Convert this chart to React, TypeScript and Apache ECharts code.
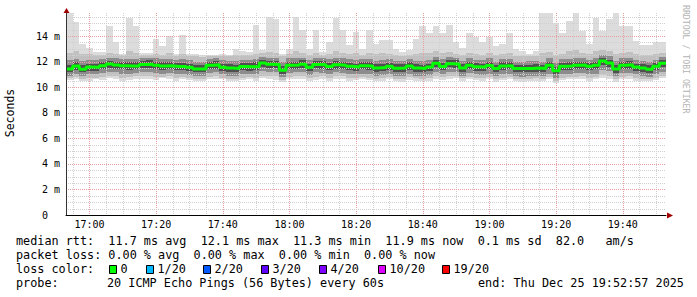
import React, { useEffect, useRef } from "react";
import * as echarts from "echarts";

// time axis in minutes since midnight; window 16:52:57 .. 19:52:57, 2-minute samples
const START = 16 * 60 + 52 + 57 / 60;
const STEP = 2;
const SPAN = 180;
const END = START + SPAN;
const YMAX = 15.8;

const median = [
  11.42, 11.66, 11.40, 11.58, 11.55, 11.68, 11.82, 11.74, 11.68, 11.66,
  11.66, 11.78, 11.80, 11.72, 11.65, 11.67, 11.62, 11.62, 11.56, 11.42,
  11.42, 11.71, 11.76, 11.56, 11.50, 11.45, 11.62, 11.60, 11.62, 11.88,
  11.79, 11.78, 11.32, 11.71, 11.74, 11.80, 11.55, 11.78, 11.75, 11.62,
  11.76, 11.71, 11.63, 11.58, 11.67, 11.65, 11.50, 11.53, 11.63, 11.48,
  11.50, 11.65, 11.50, 11.45, 11.58, 11.86, 11.62, 11.84, 11.82, 11.50,
  11.72, 11.60, 11.58, 11.70, 11.45, 11.65, 11.68, 11.45, 11.45, 11.45,
  11.50, 11.45, 11.71, 11.28, 11.63, 11.66, 11.72, 11.74, 11.63, 11.71,
  12.05, 11.88, 11.42, 11.71, 11.76, 11.58, 11.50, 11.40, 11.63, 11.86,
];

const maxPing = [
  16, 15.1, 13.4, 13.1, 12.75, 12.75, 14.8, 13.5, 12.6, 15.4,
  14.8, 12.7, 12.7, 13.8, 13.2, 14.0, 12.6, 14.1, 12.6, 12.6,
  12.5, 12.5, 12.5, 12.6, 12.55, 13.0, 12.8, 12.75, 14.9, 12.9,
  15.5, 15.3, 12.6, 13.0, 15.5, 14.5, 13.0, 14.5, 12.75, 13.5,
  15.4, 14.5, 13.3, 14.3, 13.0, 14.5, 13.4, 13.7, 13.7, 13.0,
  12.75, 12.9, 13.8, 14.8, 14.2, 14.8, 14.2, 14.9, 13.5, 13.1,
  14.2, 13.9, 13.5, 13.9, 13.2, 13.4, 14.2, 13.0, 12.8, 12.6,
  12.8, 16, 16, 15.0, 14.2, 15.2, 16, 14.4, 13.4, 15.4,
  14.4, 15.3, 16, 14.8, 14.8, 13.6, 13.3, 13.3, 13.5, 13.5,
];

const midHi = [
  12.7, 12.8, 12.6, 12.6, 12.5, 12.55, 12.7, 12.6, 12.5, 12.8,
  12.7, 12.5, 12.55, 12.6, 12.55, 12.65, 12.45, 12.6, 12.45, 12.4,
  12.35, 12.4, 12.4, 12.45, 12.4, 12.5, 12.55, 12.5, 12.6, 12.7,
  12.75, 12.7, 12.4, 12.6, 12.8, 12.7, 12.55, 12.7, 12.5, 12.6,
  12.8, 12.7, 12.6, 12.65, 12.55, 12.7, 12.6, 12.65, 12.6, 12.5,
  12.45, 12.55, 12.6, 12.7, 12.65, 12.8, 12.7, 12.75, 12.6, 12.55,
  12.7, 12.6, 12.55, 12.65, 12.5, 12.6, 12.7, 12.45, 12.4, 12.4,
  12.45, 12.7, 12.75, 12.5, 12.6, 12.8, 12.9, 12.7, 12.6, 12.8,
  12.9, 12.85, 12.6, 12.7, 12.75, 12.6, 12.55, 12.5, 12.6, 12.7,
];

const innerHi = [
  12.1, 12.2, 12.05, 12.15, 12.1, 12.2, 12.3, 12.25, 12.2, 12.2,
  12.2, 12.3, 12.3, 12.25, 12.2, 12.2, 12.15, 12.2, 12.1, 12.0,
  12.0, 12.2, 12.25, 12.1, 12.05, 12.05, 12.15, 12.15, 12.2, 12.35,
  12.3, 12.3, 11.95, 12.25, 12.25, 12.3, 12.1, 12.3, 12.3, 12.2,
  12.3, 12.25, 12.2, 12.15, 12.2, 12.2, 12.05, 12.1, 12.2, 12.05,
  12.05, 12.2, 12.05, 12.05, 12.15, 12.35, 12.2, 12.35, 12.3, 12.05,
  12.25, 12.15, 12.1, 12.25, 12.0, 12.2, 12.2, 12.0, 12.0, 12.05,
  12.05, 12.0, 12.25, 11.9, 12.2, 12.2, 12.25, 12.25, 12.15, 12.25,
  12.5, 12.4, 12.05, 12.25, 12.3, 12.15, 12.05, 12.0, 12.15, 12.35,
];

const coreHi = [
  11.75, 11.95, 11.75, 11.85, 11.85, 11.95, 12.05, 12.0, 11.95, 11.95,
  11.95, 12.05, 12.1, 12.0, 11.95, 11.95, 11.9, 11.9, 11.85, 11.75,
  11.75, 12.0, 12.05, 11.85, 11.8, 11.75, 11.9, 11.9, 11.95, 12.15,
  12.05, 12.05, 11.65, 12.0, 12.0, 12.1, 11.85, 12.05, 12.05, 11.9,
  12.05, 12.0, 11.9, 11.85, 11.95, 11.95, 11.8, 11.8, 11.9, 11.8,
  11.8, 11.95, 11.8, 11.75, 11.85, 12.1, 11.9, 12.1, 12.1, 11.8,
  12.0, 11.9, 11.85, 12.0, 11.75, 11.95, 11.95, 11.75, 11.75, 11.75,
  11.8, 11.75, 12.0, 11.6, 11.9, 11.95, 12.0, 12.0, 11.9, 12.0,
  12.3, 12.15, 11.75, 12.0, 12.05, 11.85, 11.8, 11.7, 11.9, 12.1,
];

const coreLo = [
  11.15, 11.35, 11.15, 11.3, 11.25, 11.4, 11.5, 11.45, 11.4, 11.35,
  11.4, 11.5, 11.5, 11.45, 11.35, 11.4, 11.35, 11.35, 11.25, 11.15,
  11.15, 11.45, 11.45, 11.3, 11.2, 11.15, 11.35, 11.3, 11.35, 11.55,
  11.5, 11.5, 11.05, 11.4, 11.45, 11.5, 11.25, 11.5, 11.45, 11.35,
  11.45, 11.4, 11.35, 11.3, 11.4, 11.35, 11.2, 11.25, 11.35, 11.2,
  11.2, 11.35, 11.2, 11.15, 11.3, 11.55, 11.35, 11.55, 11.5, 11.2,
  11.45, 11.3, 11.3, 11.4, 11.15, 11.35, 11.4, 11.15, 11.15, 11.15,
  11.2, 11.15, 11.4, 11.0, 11.35, 11.35, 11.4, 11.45, 11.35, 11.4,
  11.7, 11.55, 11.1, 11.4, 11.45, 11.3, 11.2, 11.1, 11.35, 11.55,
];

const innerLo = [
  10.9, 11.05, 10.85, 11.0, 11.0, 11.1, 11.2, 11.15, 11.05, 11.05,
  11.1, 11.2, 11.2, 11.1, 11.05, 11.1, 11.05, 11.0, 10.95, 10.85,
  10.85, 11.1, 11.15, 11.0, 10.9, 10.85, 11.0, 11.0, 11.05, 11.25,
  11.2, 11.15, 10.8, 11.1, 11.15, 11.2, 10.95, 11.15, 11.1, 11.0,
  11.15, 11.1, 11.0, 11.0, 11.05, 11.05, 10.9, 10.95, 11.0, 10.9,
  10.85, 11.05, 10.9, 10.85, 10.95, 11.2, 11.0, 11.2, 11.2, 10.9,
  11.1, 11.0, 10.95, 11.05, 10.85, 11.0, 11.05, 10.85, 10.8, 10.85,
  10.9, 10.85, 11.05, 10.75, 11.0, 11.05, 11.1, 11.1, 11.0, 11.05,
  11.35, 11.25, 10.85, 11.1, 11.1, 11.0, 10.9, 10.8, 11.0, 11.2,
];

const midLo = [
  10.7, 10.8, 10.65, 10.7, 10.75, 10.8, 10.9, 10.85, 10.75, 10.8,
  10.85, 10.9, 10.9, 10.8, 10.8, 10.85, 10.75, 10.8, 10.7, 10.6,
  10.65, 10.8, 10.85, 10.75, 10.65, 10.65, 10.75, 10.8, 10.7, 10.9,
  10.9, 10.85, 10.55, 10.8, 10.85, 10.85, 10.7, 10.8, 10.85, 10.75,
  10.9, 10.85, 10.75, 10.75, 10.8, 10.75, 10.65, 10.7, 10.8, 10.65,
  10.6, 10.8, 10.7, 10.6, 10.7, 10.9, 10.8, 10.85, 10.9, 10.7,
  10.8, 10.75, 10.7, 10.8, 10.6, 10.75, 10.8, 10.65, 10.6, 10.65,
  10.7, 10.65, 10.8, 10.5, 10.75, 10.8, 10.8, 10.85, 10.7, 10.8,
  10.95, 10.9, 10.6, 10.8, 10.85, 10.7, 10.65, 10.6, 10.75, 10.9,
];

const minPing = [
  10.55, 10.6, 10.5, 10.45, 10.6, 10.55, 10.7, 10.6, 10.5, 10.55,
  10.6, 10.65, 10.6, 10.55, 10.7, 10.6, 10.5, 10.6, 10.55, 10.45,
  10.5, 10.6, 10.65, 10.6, 10.45, 10.5, 10.55, 10.6, 10.5, 10.7,
  10.6, 10.55, 10.4, 10.6, 10.65, 10.6, 10.45, 10.55, 10.6, 10.5,
  10.65, 10.6, 10.5, 10.55, 10.6, 10.55, 10.45, 10.5, 10.6, 10.5,
  10.4, 10.55, 10.5, 10.45, 10.5, 10.65, 10.55, 10.6, 10.7, 10.5,
  10.6, 10.55, 10.5, 10.6, 10.4, 10.55, 10.6, 10.45, 10.4, 10.45,
  10.5, 10.45, 10.6, 10.35, 10.55, 10.6, 10.6, 10.65, 10.5, 10.6,
  10.7, 10.65, 10.4, 10.6, 10.65, 10.5, 10.45, 10.5, 10.55, 10.7,
];

const xTickLabels = ["17:00", "17:20", "17:40", "18:00", "18:20", "18:40", "19:00", "19:20", "19:40"];
const yTickValues = [0, 2, 4, 6, 8, 10, 12, 14];

const statLines = [
  "median rtt:  11.7 ms avg  12.1 ms max  11.3 ms min  11.9 ms now  0.1 ms sd  82.0   am/s",
  "packet loss: 0.00 % avg  0.00 % max  0.00 % min  0.00 % now",
];
const lossLabels = ["0", "1/20", "2/20", "3/20", "4/20", "10/20", "19/20"];
const lossColors = ["#00ff00", "#00b8ff", "#0059ff", "#5e00ff", "#7e00ff", "#dd00ff", "#ff0000"];
const lossX = [109, 146, 203, 261, 319, 378, 442];
const probeText = "20 ICMP Echo Pings (56 Bytes) every 60s";
const endText = "end: Thu Dec 25 19:52:57 2025";

const MONO = "'DejaVu Sans Mono', monospace";
const MINOR = "#d0d0d0";
const MAJOR = "#e6a0a0";

const toMin = (s: string) => {
  const [h, m] = s.split(":").map(Number);
  return h * 60 + m;
};
const fmtTime = (v: number) => {
  const h = Math.floor(v / 60);
  const m = Math.round(v - h * 60);
  return `${h}:${m < 10 ? "0" : ""}${m}`;
};

function bandSeries(lo: number[], hi: number[], color: string, z: number) {
  return {
    type: "custom",
    z,
    clip: true,
    silent: true,
    encode: { x: [0, 1], y: [2, 3] },
    data: lo.map((l, i) => [START + i * STEP, START + (i + 1) * STEP, l, hi[i]]),
    renderItem: (params: any, api: any) => {
      const p0 = api.coord([api.value(0), api.value(3)]);
      const p1 = api.coord([api.value(1), api.value(2)]);
      const x0 = Math.round(p0[0]);
      const x1 = Math.round(p1[0]);
      const y0 = Math.round(p0[1]);
      const y1 = Math.round(p1[1]);
      return {
        type: "rect",
        shape: { x: x0, y: y0, width: x1 - x0, height: y1 - y0 },
        style: { fill: color },
      };
    },
  };
}

export default function App() {
  const ref = useRef<HTMLDivElement>(null);
  useEffect(() => {
    if (!ref.current) return;
    const chart = echarts.init(ref.current, undefined, { renderer: "svg" });

    const xTickValues = xTickLabels.map(toMin);
    const vLines: number[][] = [];
    for (let t = Math.ceil(START / 5) * 5; t < END; t += 5) vLines.push([t, 0, t % 20 === 0 ? 1 : 0]);
    const hLines: number[][] = [];
    for (let v = 0.5; v < YMAX; v += 0.5) hLines.push([START, v, v % 2 === 0 ? 1 : 0]);

    const lineData = median.map((v, i) => [START + i * STEP, v]);
    lineData.push([END, median[median.length - 1]]);

    const txt = (x: number, y: number, text: string) => ({
      type: "text",
      x,
      y,
      style: { text, fontFamily: MONO, fontSize: 11.8, fill: "#000", verticalAlign: "middle", align: "left" },
    });

    const els: any[] = [];
    statLines.forEach((s, i) => els.push(txt(16, 241 + i * 14.1, s)));
    els.push(txt(16, 269.3, "loss color:"));
    lossLabels.forEach((l, i) => {
      els.push({ type: "rect", shape: { x: lossX[i] + 0.5, y: 265.5, width: 7, height: 8 }, style: { fill: lossColors[i], stroke: "#000", lineWidth: 1 } });
      els.push(txt(lossX[i] + 11.5, 269.3, l));
    });
    els.push(txt(16, 283.4, "probe:"));
    els.push(txt(107, 283.4, probeText));
    els.push(txt(478, 283.4, endText));
    els.push({ type: "text", x: 10, y: 113, rotation: Math.PI / 2, style: { text: "Seconds", fontFamily: MONO, fontSize: 11.5, fill: "#000", align: "center", verticalAlign: "middle" } });
    els.push({ type: "text", x: 686, y: 5, rotation: -Math.PI / 2, style: { text: "RRDTOOL / TOBI OETIKER", fontFamily: MONO, fontSize: 8.2, fill: "#b4b4b4", align: "left", verticalAlign: "middle" } });
    els.push({ type: "polygon", shape: { points: [[66.5, 8], [63.5, 13], [69.5, 13]] }, style: { fill: "#a00000" }, z: 100 });
    els.push({ type: "polygon", shape: { points: [[673, 215.5], [667, 212.5], [667, 218.5]] }, style: { fill: "#a00000" }, z: 100 });

    chart.setOption({
      animation: false,
      grid: { left: 66, right: 31, top: 13, bottom: 82 },
      xAxis: {
        type: "value",
        min: START,
        max: END,
        z: 20,
        splitLine: { show: false },
        axisTick: { show: false },
        axisLine: { show: true, lineStyle: { color: "#000", width: 1 } },
        axisLabel: {
          customValues: xTickValues,
          formatter: (v: number) => fmtTime(v),
          fontFamily: MONO,
          fontSize: 10,
          color: "#000",
          margin: 4,
        },
      },
      yAxis: {
        type: "value",
        min: 0,
        max: YMAX,
        interval: 2,
        z: 20,
        splitLine: { show: false },
        axisTick: { show: false },
        axisLine: { show: true, lineStyle: { color: "#333", width: 1 } },
        axisLabel: {
          showMaxLabel: false,
          fontFamily: MONO,
          fontSize: 10,
          color: "#000",
          margin: 6,
          formatter: (v: number) => (yTickValues.includes(v) ? (v === 0 ? "{z|0}" : `${v} m`) : ""),
          rich: { z: { fontFamily: MONO, fontSize: 10, color: "#000", padding: [0, 12, 0, 0] } },
        },
      },
      series: [
        bandSeries(minPing, maxPing, "#dcdcdc", 1),
        bandSeries(midLo, midHi, "#c0c0c0", 2),
        bandSeries(innerLo, innerHi, "#8c8c8c", 3),
        bandSeries(coreLo, coreHi, "#505050", 4),
        {
          type: "custom",
          z: 5,
          silent: true,
          encode: { x: 0, y: 1 },
          data: vLines,
          renderItem: (params: any, api: any) => {
            const cs = params.coordSys;
            const x = Math.round(api.coord([api.value(0), 0])[0]) + 0.5;
            return {
              type: "line",
              shape: { x1: x, y1: cs.y, x2: x, y2: cs.y + cs.height },
              style: { stroke: api.value(2) === 1 ? MAJOR : MINOR, lineWidth: 1, lineDash: [1, 1] },
            };
          },
        },
        {
          type: "custom",
          z: 5,
          silent: true,
          encode: { x: 0, y: 1 },
          data: hLines,
          renderItem: (params: any, api: any) => {
            const cs = params.coordSys;
            const y = Math.round(api.coord([START, api.value(1)])[1]) + 0.5;
            return {
              type: "line",
              shape: { x1: cs.x, y1: y, x2: cs.x + cs.width, y2: y },
              style: { stroke: api.value(2) === 1 ? MAJOR : MINOR, lineWidth: 1, lineDash: [1, 1] },
            };
          },
        },
        {
          type: "line",
          z: 10,
          step: "end",
          symbol: "none",
          showSymbol: false,
          silent: true,
          clip: true,
          data: lineData,
          lineStyle: { color: "#00ff00", width: 3 },
        },
      ],
      graphic: { elements: els },
    });
    return () => chart.dispose();
  }, []);
  return <div ref={ref} style={{ position: "fixed", left: 0, top: 0, width: 697, height: 297, background: "#fff" }} />;
}
